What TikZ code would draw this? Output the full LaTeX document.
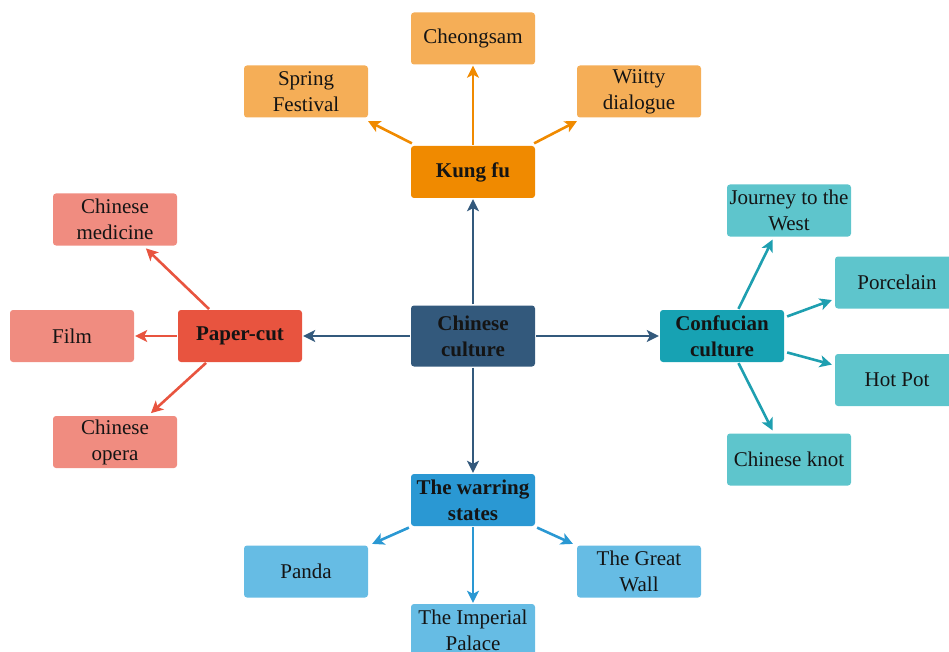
\documentclass[tikz,border=0pt]{standalone}
\usepackage{fontspec}
\setmainfont{Liberation Serif}
\usetikzlibrary{arrows.meta,calc}
\definecolor{cdark}{HTML}{33597C}
\definecolor{corange}{HTML}{F08A00}
\definecolor{corangel}{HTML}{F5AE57}
\definecolor{cred}{HTML}{E8543F}
\definecolor{credl}{HTML}{F08C80}
\definecolor{cteal}{HTML}{17A2B3}
\definecolor{ctealm}{HTML}{1E9FB0}
\definecolor{ctealL}{HTML}{5EC5CC}
\definecolor{cblue}{HTML}{2A98D3}
\definecolor{cblueL}{HTML}{66BCE4}
\definecolor{ctext}{HTML}{141414}
\tikzset{
  box/.style={rectangle, rounded corners=3pt, minimum width=124pt, minimum height=52pt,
    inner sep=0pt, align=center, text=ctext, font=\fontsize{21}{26}\selectfont},
  mainbox/.style={box, font=\fontsize{21}{26}\selectfont\bfseries},
  conn/.style={line width=2.6pt, -{Stealth[length=12pt,width=12pt,inset=3pt]}, shorten <=1pt, shorten >=1pt}
}
\begin{document}
\begin{tikzpicture}[x=1pt,y=-1pt]
\useasboundingbox (0,0) rectangle (949,652);
\clip (0,0) rectangle (949,652);
% center
\node[mainbox, fill=cdark, minimum height=61pt] (cc) at (473,336) {Chinese\\culture};
% Kung fu group
\node[mainbox, fill=corange] (kf) at (473,172) {Kung fu};
\node[box, fill=corangel] (ch) at (473,38.5) {Cheongsam};
\node[box, fill=corangel] (sf) at (306,91.5) {Spring\\Festival};
\node[box, fill=corangel] (wd) at (639,91.5) {Wiitty\\dialogue};
% Paper-cut group
\node[mainbox, fill=cred] (pc) at (240,336) {Paper-cut};
\node[box, fill=credl] (fm) at (72,336) {Film};
\node[box, fill=credl] (md) at (115,219.5) {Chinese\\medicine};
\node[box, fill=credl] (op) at (115,442) {Chinese\\opera};
% Confucian group
\node[mainbox, fill=cteal] (cf) at (722,336) {Confucian\\culture};
\node[box, fill=ctealL] (jw) at (789,210.5) {Journey to the\\West};
\node[box, fill=ctealL] (pl) at (897,282.5) {Porcelain};
\node[box, fill=ctealL] (hp) at (897,380) {Hot Pot};
\node[box, fill=ctealL] (kn) at (789,459.5) {Chinese knot};
% Warring states group
\node[mainbox, fill=cblue] (ws) at (473,500) {The warring\\states};
\node[box, fill=cblueL] (pd) at (306,571.5) {Panda};
\node[box, fill=cblueL] (gw) at (639,571.5) {The Great\\Wall};
\node[box, fill=cblueL] (ip) at (473,630) {The Imperial\\Palace};
% center arrows
\draw[conn, cdark] (cc.north) -- (kf.south);
\draw[conn, cdark] (cc.west) -- (pc.east);
\draw[conn, cdark] (cc.east) -- (cf.west);
\draw[conn, cdark] (cc.south) -- (ws.north);
% kung fu
\draw[conn, corange] (kf.north) -- (ch.south);
\draw[conn, corange] ($(kf.north west)+(2,-2)$) -- ($(sf.south east)+(-1,3)$);
\draw[conn, corange] ($(kf.north east)+(-2,-2)$) -- ($(wd.south west)+(1,3)$);
% paper-cut
\draw[conn, cred] (pc.west) -- (fm.east);
\draw[conn, cred] ($(pc.north west)+(32,0)$) -- ($(md.south east)+(-32,2)$);
\draw[conn, cred] ($(pc.south west)+(29,0)$) -- ($(op.north east)+(-27,-2)$);
% confucian
\draw[conn, ctealm] ($(cf.north)+(16,0)$) -- ($(jw.south)+(-16,2)$);
\draw[conn, ctealm] ($(cf.north east)+(2,7)$) -- ($(pl.south west)+(-2,-9)$);
\draw[conn, ctealm] ($(cf.south east)+(2,-10)$) -- ($(hp.north west)+(-2,11)$);
\draw[conn, ctealm] ($(cf.south)+(16,0)$) -- ($(kn.north)+(-16,-2)$);
% warring states
\draw[conn, cblue] ($(ws.south west)+(-1,1)$) -- ($(pd.north east)+(3,-1)$);
\draw[conn, cblue] ($(ws.south east)+(1,1)$) -- ($(gw.north west)+(-3,-1)$);
\draw[conn, cblue] (ws.south) -- (ip.north);
\end{tikzpicture}
\end{document}
